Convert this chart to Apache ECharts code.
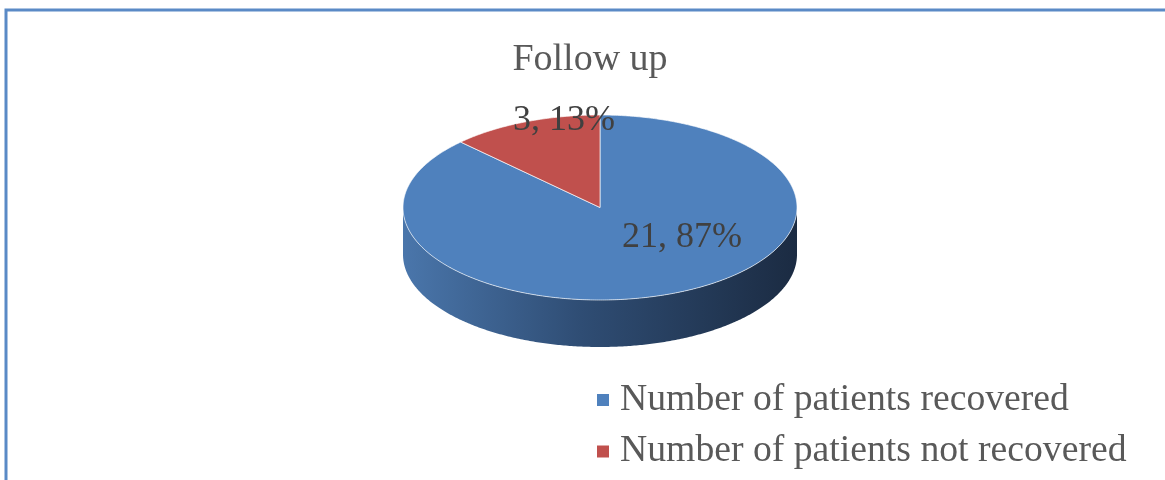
<!DOCTYPE html>
<html>
<head>
<meta charset="utf-8">
<script src="https://cdn.jsdelivr.net/npm/echarts@6/dist/echarts.min.js"></script>
<style>html,body{margin:0;padding:0;background:#fff;}#main{width:1165px;height:480px;}</style>
</head>
<body>
<div id="main"></div>
<script>
// ---- data ----
const titleText = 'Follow up';
const categories = ['Number of patients recovered', 'Number of patients not recovered'];
const values = [21, 3];
const percents = [87, 13];

// ---- styling / layout ----
const colors = ['#4f81bd', '#c0504d'];
const CX = 600, CY = 207.5, RX = 197, RY = 92.5, DEPTH = 47;
const labelPos = [[682, 238], [564, 121]];
const FONT = '"Liberation Serif", "Times New Roman", serif';

const total = values.reduce((a, b) => a + b, 0);
function pt(theta, dy) { return [CX + RX * Math.sin(theta), CY - RY * Math.cos(theta) + (dy || 0)]; }
function arc(a0, a1, dy) {
  const pts = []; const n = Math.max(8, Math.ceil((a1 - a0) / 0.01));
  for (let k = 0; k <= n; k++) pts.push(pt(a0 + (a1 - a0) * k / n, dy));
  return pts;
}

function makeRender(i) {
  return function (params, api) {
    let before = 0; for (let j = 0; j < i; j++) before += values[j];
    const a0 = before / total * Math.PI * 2;
    const a1 = (before + values[i]) / total * Math.PI * 2;
    const children = [];
    // front side wall (visible between 90deg and 270deg)
    const s0 = Math.max(a0, Math.PI / 2), s1 = Math.min(a1, Math.PI * 1.5);
    if (s1 > s0) {
      const top = arc(s0, s1, 0);
      const bot = arc(s0, s1, DEPTH).reverse();
      children.push({
        type: 'polygon', shape: { points: top.concat(bot) },
        style: {
          fill: new echarts.graphic.LinearGradient(CX - RX, 0, CX + RX, 0, [
            { offset: 0, color: '#4a76ab' },
            { offset: 0.45, color: '#2f4d74' },
            { offset: 1, color: '#1b2b42' }
          ], true),
          stroke: 'none'
        }
      });
    }
    // top face
    children.push({
      type: 'polygon', shape: { points: [[CX, CY]].concat(arc(a0, a1, 0)) },
      style: { fill: colors[i], stroke: 'rgba(255,255,255,0.65)', lineWidth: 1 }
    });
    children.push({
      type: 'text', x: labelPos[i][0], y: labelPos[i][1],
      style: {
        text: values[i] + ', ' + percents[i] + '%', fill: '#404040',
        font: '36px ' + FONT, align: 'center', verticalAlign: 'middle'
      }
    });
    return { type: 'group', children: children };
  };
}

const chart = echarts.init(document.getElementById('main'), null, { renderer: 'canvas' });
chart.setOption({
  backgroundColor: '#ffffff',
  animation: false,
  title: {
    text: titleText, left: 590, top: 40, textAlign: 'center', padding: 0,
    textStyle: { fontFamily: FONT, fontSize: 38, fontWeight: 'normal', color: '#595959', lineHeight: 40 }
  },
  legend: {
    orient: 'vertical', left: 597, top: 380, padding: 0, itemGap: 11.5,
    itemWidth: 12, itemHeight: 12, icon: 'rect',
    data: categories,
    textStyle: { fontFamily: FONT, fontSize: 37.7, color: '#595959', lineHeight: 40, padding: [0, 0, 0, 6] }
  },
  graphic: [{
    type: 'polyline', shape: { points: [[6, 482], [6, 10], [1167, 10]] },
    style: { stroke: '#5a8ac6', lineWidth: 3, fill: 'none' }, silent: true
  }],
  series: categories.map((c, i) => ({
    type: 'custom', name: c, coordinateSystem: 'none',
    itemStyle: { color: colors[i] },
    data: [values[i]],
    renderItem: makeRender(i)
  }))
});
</script>
</body>
</html>
